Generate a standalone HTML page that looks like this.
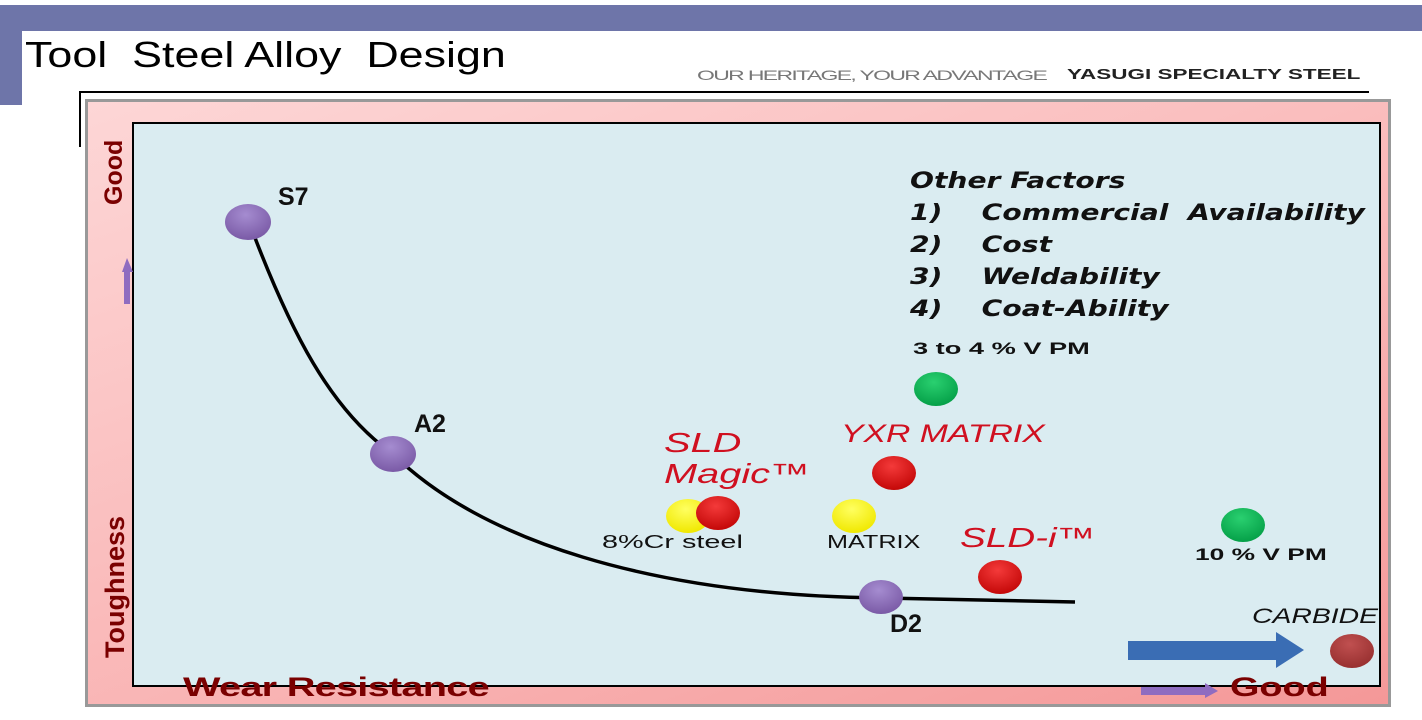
<!DOCTYPE html>
<html><head><meta charset="utf-8"><style>
body{margin:0;width:1422px;height:720px;background:#fff;position:relative;overflow:hidden;font-family:"Liberation Sans",sans-serif}
.a{position:absolute;white-space:nowrap;transform-origin:0 0}
.f{font-family:"DejaVu Sans",sans-serif;font-style:italic;font-weight:bold;font-size:22px;color:#111}
</style></head><body>
<div class="a" style="left:0;top:5px;width:1422px;height:26px;background:#6e75a9"></div>
<div class="a" style="left:0;top:5px;width:22px;height:100px;background:#6e75a9"></div>
<div class="a" style="left:25px;top:34px;font-size:36px;color:#000;transform:scaleX(1.245)">Tool&nbsp; Steel Alloy&nbsp; Design</div>
<div class="a" style="left:697px;top:67px;font-size:14px;color:#777;letter-spacing:-1px;transform:scaleX(1.64)">OUR HERITAGE, YOUR ADVANTAGE</div>
<div class="a" style="left:1067px;top:66px;font-size:15px;font-weight:bold;color:#222;transform:scaleX(1.5)">YASUGI SPECIALTY STEEL</div>
<div class="a" style="left:79px;top:91px;width:1290px;height:2px;background:#000"></div>
<div class="a" style="left:79px;top:91px;width:2px;height:56px;background:#000"></div>
<div class="a" style="left:85px;top:99px;width:1306px;height:608px;background:linear-gradient(160deg,#fdd6d6,#f9b4b4 60%,#f49898);border:3px solid #999;box-sizing:border-box"></div>
<div class="a" style="left:132px;top:122px;width:1249px;height:565px;background:#daecf1;border:2px solid #000;box-sizing:border-box"></div>
<svg class="a" style="left:0;top:0" width="1422" height="720">
<defs>
<radialGradient id="p" cx="45%" cy="30%" r="70%"><stop offset="0" stop-color="#a58cd0"/><stop offset="1" stop-color="#7a5aa6"/></radialGradient>
<radialGradient id="r" cx="45%" cy="30%" r="70%"><stop offset="0" stop-color="#f43a3a"/><stop offset="1" stop-color="#c40808"/></radialGradient>
<radialGradient id="y" cx="45%" cy="30%" r="70%"><stop offset="0" stop-color="#ffff60"/><stop offset="1" stop-color="#f0e800"/></radialGradient>
<radialGradient id="g" cx="45%" cy="30%" r="70%"><stop offset="0" stop-color="#2ad070"/><stop offset="1" stop-color="#05a048"/></radialGradient>
<radialGradient id="c" cx="45%" cy="30%" r="70%"><stop offset="0" stop-color="#c05050"/><stop offset="1" stop-color="#983030"/></radialGradient>
</defs>
<path d="M252,230 C290,330 330,410 393,454 C480,540 650,595 880,598 L1075,602" fill="none" stroke="#000" stroke-width="3.5"/>
<ellipse cx="248" cy="222" rx="23" ry="18" fill="url(#p)"/>
<ellipse cx="393" cy="454" rx="23" ry="18" fill="url(#p)"/>
<ellipse cx="881" cy="597" rx="22" ry="17" fill="url(#p)"/>
<ellipse cx="688" cy="516" rx="22" ry="17" fill="url(#y)"/>
<ellipse cx="718" cy="513" rx="22" ry="17" fill="url(#r)"/>
<ellipse cx="854" cy="516" rx="22" ry="17" fill="url(#y)"/>
<ellipse cx="894" cy="473" rx="22" ry="17" fill="url(#r)"/>
<ellipse cx="936" cy="389" rx="22" ry="17" fill="url(#g)"/>
<ellipse cx="1000" cy="577" rx="22" ry="17" fill="url(#r)"/>
<ellipse cx="1243" cy="525" rx="22" ry="17" fill="url(#g)"/>
<ellipse cx="1352" cy="651" rx="22" ry="17" fill="url(#c)"/>
<polygon points="1128,641 1276,641 1276,632 1304,650 1276,668 1276,660 1128,660" fill="#3a6db4"/>
<polygon points="1141,687 1205,687 1205,683 1218,691 1205,698 1205,695 1141,695" fill="#8f6cc0"/>
<polygon points="122,272 127,258 133,272 130,272 130,304 124,304 124,272" fill="#8f6cc0"/>
</svg>
<div class="a" style="left:278px;top:183px;font-size:25px;font-weight:bold;color:#111">S7</div>
<div class="a" style="left:414px;top:410px;font-size:25px;font-weight:bold;color:#111">A2</div>
<div class="a" style="left:890px;top:610px;font-size:25px;font-weight:bold;color:#111">D2</div>
<div class="a" style="left:664px;top:427px;font-size:28px;font-style:italic;color:#d01020;line-height:31px;transform:scaleX(1.42)">SLD<br>Magic™</div>
<div class="a" style="left:841px;top:420px;font-size:25px;font-style:italic;color:#d01020;transform:scaleX(1.35)">YXR MATRIX</div>
<div class="a" style="left:960px;top:522px;font-size:28px;font-style:italic;color:#d01020;transform:scaleX(1.38)">SLD-<i>i</i>™</div>
<div class="a" style="left:602px;top:532px;font-size:18px;color:#111;transform:scaleX(1.6)">8%Cr steel</div>
<div class="a" style="left:827px;top:532px;font-size:18px;color:#111;transform:scaleX(1.4)">MATRIX</div>
<div class="a" style="left:913px;top:339px;font-size:17px;font-weight:bold;color:#111;transform:scaleX(1.6)">3 to 4 % V PM</div>
<div class="a" style="left:1195px;top:545px;font-size:17px;font-weight:bold;color:#111;transform:scaleX(1.55)">10 % V PM</div>
<div class="a" style="left:1252px;top:605px;font-size:21px;font-style:italic;color:#111;transform:scaleX(1.35)">CARBIDE</div>
<div class="a f" style="left:910px;top:166px;line-height:32px;transform:scaleX(1.28)">Other Factors<br>1)&nbsp;&nbsp;&nbsp; Commercial&nbsp; Availability<br>2)&nbsp;&nbsp;&nbsp; Cost<br>3)&nbsp;&nbsp;&nbsp; Weldability<br>4)&nbsp;&nbsp;&nbsp; Coat-Ability</div>
<div class="a" style="left:183px;top:672px;font-size:27px;font-weight:bold;color:#7a0000;letter-spacing:-0.5px;transform:scaleX(1.47)">Wear Resistance</div>
<div class="a" style="left:1230px;top:672px;font-size:27px;font-weight:bold;color:#7a0000;transform:scaleX(1.4)">Good</div>
<div class="a" style="left:100px;top:205px;transform:rotate(-90deg);font-size:25px;font-weight:bold;color:#7a0000">Good</div>
<div class="a" style="left:100px;top:658px;transform:rotate(-90deg);font-size:27px;font-weight:bold;color:#7a0000">Toughness</div>
</body></html>
